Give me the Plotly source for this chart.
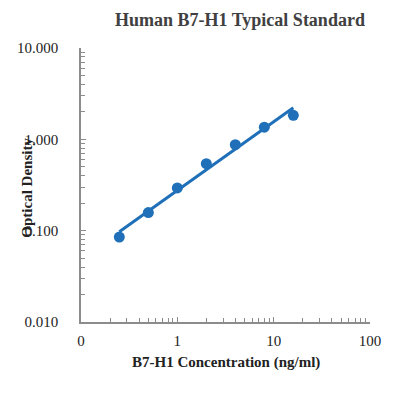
import numpy as np
import plotly.graph_objects as go

concentration = [0.25, 0.5, 1, 2, 4, 8, 16]
optical_density = [0.085, 0.158, 0.294, 0.542, 0.875, 1.36, 1.83]
x_tick_vals = [0.1, 1, 10, 100]
x_tick_text = ["0", "1", "10", "100"]
y_tick_vals = [0.01, 0.1, 1, 10]
y_tick_text = ["0.010", "0.100", "1.000", "10.000"]

blue = "#1f70b8"
serif = "Liberation Serif, Times New Roman, serif"

# power trend line fitted on the data (log-log least squares)
lx = np.log10(concentration)
ly = np.log10(optical_density)
slope, intercept = np.polyfit(lx, ly, 1)
trend_x = [concentration[0], concentration[-1]]
trend_y = [10 ** (intercept + slope * np.log10(v)) for v in trend_x]

fig = go.Figure()
fig.add_trace(go.Scatter(x=concentration, y=optical_density, mode="markers",
                         marker=dict(color=blue, size=11), showlegend=False))
fig.add_trace(go.Scatter(x=trend_x, y=trend_y, mode="lines",
                         line=dict(color=blue, width=3), showlegend=False))

axis_common = dict(type="log", showgrid=False, zeroline=False, showline=True,
                   linecolor="#8c8c8c", linewidth=1.5, ticks="inside",
                   tickcolor="#8c8c8c", ticklen=5, tickwidth=1,
                   tickfont=dict(family=serif, size=15, color="#222"),
                   minor=dict(ticks="inside", ticklen=4, tickcolor="#8c8c8c",
                              tickwidth=1, dtick="D1", showgrid=False),
                   automargin=False)

fig.update_layout(
    width=392, height=390,
    margin=dict(l=73, r=30, t=40, b=76),
    paper_bgcolor="white", plot_bgcolor="white",
    title=dict(text="<b>Human B7-H1 Typical Standard</b>", x=0.55, xanchor="center",
               xref="paper", y=0.969, yref="container", yanchor="middle",
               font=dict(family=serif, size=18, color="#404040")),
    xaxis=dict(range=[-1, 2], tickvals=x_tick_vals, ticktext=x_tick_text,
               ticklabelstandoff=4, **axis_common),
    yaxis=dict(range=[-2, 1], tickvals=y_tick_vals, ticktext=y_tick_text,
               ticklabelstandoff=18, **axis_common),
    annotations=[
        dict(text="<b>B7-H1 Concentration (ng/ml)</b>", xref="paper", yref="paper",
             x=0.5, y=-0.146, xanchor="center", yanchor="middle", showarrow=False,
             font=dict(family=serif, size=15, color="#222")),
        dict(text="<b>Optical Density</b>", xref="paper", yref="paper",
             x=-0.187, y=0.49, xanchor="center", yanchor="middle", showarrow=False,
             textangle=-90, font=dict(family=serif, size=15, color="#222")),
    ],
)

fig.write_html("out.html")
